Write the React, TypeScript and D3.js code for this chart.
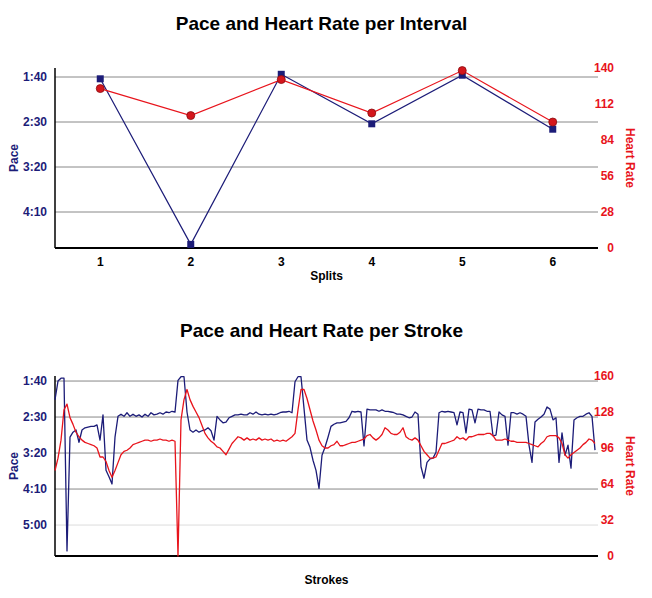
import React from 'react';
import * as d3 from 'd3';

const W = 652;
const H = 598;

const NAVY = '#1c1c78';
const RED = '#e8141c';

// interval chart
const splits = ['1', '2', '3', '4', '5', '6'];
const splitPace = [102, 286, 97, 152, 98, 158]; // seconds per 500m
const splitHr = [124, 103, 131, 105, 138, 98];
const intervalPaceTicks = [100, 150, 200, 250];
const intervalHrTicks = [0, 28, 56, 84, 112, 140];

// stroke chart (one value per stroke)
const strokePace = [
  126, 100, 96, 96, 336, 178, 171, 168, 185, 168, 165, 164, 163, 163, 161, 182, 147, 224, 233, 243,
  178, 149, 146, 149, 144, 149, 146, 149, 147, 150, 146, 149, 144, 147, 146, 144, 146, 143, 144, 142,
  143, 99, 94, 94, 143, 168, 171, 168, 171, 169, 168, 165, 169, 182, 149, 154, 158, 157, 151, 149,
  147, 147, 146, 147, 147, 144, 146, 143, 146, 147, 146, 147, 146, 147, 146, 144, 143, 143, 142, 144,
  101, 94, 94, 138, 182, 192, 210, 224, 249, 203, 192, 178, 163, 160, 158, 158, 157, 156, 151, 142,
  143, 142, 143, 190, 139, 140, 140, 140, 142, 140, 142, 142, 143, 144, 146, 146, 147, 149, 151, 150,
  143, 146, 219, 235, 213, 208, 207, 199, 144, 142, 143, 142, 143, 144, 161, 143, 144, 172, 139, 140,
  158, 139, 140, 140, 142, 142, 176, 175, 143, 147, 149, 189, 144, 144, 146, 144, 146, 149, 189, 213,
  157, 153, 150, 146, 136, 139, 154, 151, 213, 172, 203, 189, 221, 154, 151, 149, 149, 146, 144, 149,
  196,
];
const strokeHr = [
  76, 87, 103, 130, 135, 123, 117, 110, 106, 103, 101, 100, 99, 98, 96, 88, 88, 84, 76, 70,
  76, 83, 90, 93, 94, 96, 99, 100, 101, 102, 103, 103, 102, 103, 103, 104, 103, 103, 102, 103,
  102, 0, 121, 139, 148, 139, 133, 128, 123, 116, 109, 105, 102, 100, 97, 96, 93, 90, 95, 100,
  103, 106, 105, 103, 105, 103, 104, 103, 105, 103, 104, 103, 104, 102, 103, 102, 103, 102, 104, 106,
  109, 130, 148, 148, 140, 130, 120, 112, 103, 98, 96, 96, 98, 99, 102, 98, 98, 99, 100, 101,
  101, 102, 103, 104, 107, 108, 105, 103, 105, 108, 114, 112, 109, 108, 108, 110, 114, 106, 104, 103,
  105, 103, 98, 93, 90, 87, 87, 88, 94, 100, 100, 101, 102, 103, 106, 104, 105, 103, 106, 106,
  107, 108, 108, 108, 109, 109, 107, 103, 103, 103, 104, 103, 102, 102, 101, 101, 101, 101, 100, 99,
  98, 97, 100, 102, 106, 107, 107, 107, 105, 100, 90, 87, 90, 92, 94, 96, 99, 101, 104, 103,
  100,
];
const strokePaceTicks = [100, 150, 200, 250, 300];
const strokeHrTicks = [0, 32, 64, 96, 128, 160];

const fmtPace = (s: number) => `${Math.floor(s / 60)}:${String(s % 60).padStart(2, '0')}`;

const margin = { left: 55, right: 598 };

interface IPanelProps {
  title: string;
  titleY: number;
  top: number;
  bottom: number;
  paceDomain: [number, number];
  hrDomain: [number, number];
  paceTicks: number[];
  hrTicks: number[];
  lightTicks?: number[];
  xLabel: string;
  xLabelY: number;
  children: (yPace: d3.ScaleLinear<number, number>, yHr: d3.ScaleLinear<number, number>) => React.ReactNode;
}

const Panel: React.FC<IPanelProps> = (p) => {
  const yPace = d3.scaleLinear().domain(p.paceDomain).range([p.top, p.bottom]);
  const yHr = d3.scaleLinear().domain(p.hrDomain).range([p.bottom, p.top]);
  const mid = (p.top + p.bottom) / 2;
  const cx = (margin.left + margin.right) / 2;
  return (
    <g>
      <text x={cx - 5} y={p.titleY} textAnchor="middle" fontSize={19} fontWeight="bold" fill="#000">
        {p.title}
      </text>
      {p.paceTicks.map((t) => (
        <g key={t}>
          <line
            x1={margin.left}
            x2={margin.right}
            y1={yPace(t)}
            y2={yPace(t)}
            stroke={p.lightTicks && p.lightTicks.includes(t) ? '#dcdcdc' : '#888'}
            strokeWidth={1}
          />
          <text x={47} y={yPace(t)} dy="0.35em" textAnchor="end" fontSize={12} fontWeight="bold" fill={NAVY}>
            {fmtPace(t)}
          </text>
        </g>
      ))}
      {p.hrTicks.map((t) => (
        <text key={t} x={614} y={yHr(t)} dy="0.35em" textAnchor="end" fontSize={12} fontWeight="bold" fill={RED}>
          {t}
        </text>
      ))}
      <line x1={margin.left} x2={margin.left} y1={p.top} y2={p.bottom} stroke="#000" strokeWidth={1.5} />
      <line x1={margin.left} x2={margin.right} y1={p.bottom} y2={p.bottom} stroke="#000" strokeWidth={2} />
      <text
        transform={`translate(14,${mid}) rotate(-90)`}
        textAnchor="middle"
        dy="0.35em"
        fontSize={12}
        fontWeight="bold"
        fill={NAVY}
      >
        Pace
      </text>
      <text
        transform={`translate(630,${mid}) rotate(90)`}
        textAnchor="middle"
        dy="0.35em"
        fontSize={12}
        fontWeight="bold"
        fill={RED}
      >
        Heart Rate
      </text>
      <text x={cx} y={p.xLabelY} textAnchor="middle" fontSize={12} fontWeight="bold" fill="#000">
        {p.xLabel}
      </text>
      {p.children(yPace, yHr)}
    </g>
  );
};

const IntervalChart: React.FC = () => {
  const x = d3.scalePoint<string>().domain(splits).range([margin.left, margin.right]).padding(0.5);
  return (
    <Panel
      title="Pace and Heart Rate per Interval"
      titleY={30}
      top={68}
      bottom={248}
      paceDomain={[90, 290]}
      hrDomain={[0, 140]}
      paceTicks={intervalPaceTicks}
      hrTicks={intervalHrTicks}
      xLabel="Splits"
      xLabelY={280}
    >
      {(yPace, yHr) => {
        const paceLine = d3
          .line<number>()
          .x((_d, i) => x(splits[i])!)
          .y((d) => yPace(d));
        const hrLine = d3
          .line<number>()
          .x((_d, i) => x(splits[i])!)
          .y((d) => yHr(d));
        return (
          <g>
            {splits.map((s) => (
              <text key={s} x={x(s)} y={266} textAnchor="middle" fontSize={12} fontWeight="bold" fill="#000">
                {s}
              </text>
            ))}
            <path d={paceLine(splitPace)!} fill="none" stroke={NAVY} strokeWidth={1.2} />
            {splitPace.map((v, i) => (
              <rect key={i} x={x(splits[i])! - 3.5} y={yPace(v) - 3.5} width={7} height={7} fill={NAVY} />
            ))}
            <path d={hrLine(splitHr)!} fill="none" stroke={RED} strokeWidth={1.2} />
            {splitHr.map((v, i) => (
              <circle key={i} cx={x(splits[i])} cy={yHr(v)} r={4} fill="#d4161c" stroke="#8a0d10" strokeWidth={0.8} />
            ))}
          </g>
        );
      }}
    </Panel>
  );
};

const StrokeChart: React.FC = () => {
  const x = d3.scaleLinear().domain([0, strokePace.length]).range([margin.left, margin.right]);
  return (
    <Panel
      title="Pace and Heart Rate per Stroke"
      titleY={337}
      top={376}
      bottom={556}
      paceDomain={[93, 343]}
      hrDomain={[0, 160]}
      paceTicks={strokePaceTicks}
      hrTicks={strokeHrTicks}
      lightTicks={[300]}
      xLabel="Strokes"
      xLabelY={584}
    >
      {(yPace, yHr) => {
        const paceLine = d3
          .line<number>()
          .x((_d, i) => x(i))
          .y((d) => yPace(d));
        const hrLine = d3
          .line<number>()
          .x((_d, i) => x(i))
          .y((d) => yHr(d));
        return (
          <g>
            <path d={paceLine(strokePace)!} fill="none" stroke={NAVY} strokeWidth={1.3} strokeLinejoin="round" />
            <path d={hrLine(strokeHr)!} fill="none" stroke={RED} strokeWidth={1.3} strokeLinejoin="round" />
          </g>
        );
      }}
    </Panel>
  );
};

export default function App() {
  return (
    <svg
      width={W}
      height={H}
      style={{ position: 'absolute', left: 0, top: 0, background: '#fff' }}
      fontFamily="'Liberation Sans', Arial, Helvetica, sans-serif"
    >
      <rect width={W} height={H} fill="#fff" />
      <IntervalChart />
      <StrokeChart />
    </svg>
  );
}
